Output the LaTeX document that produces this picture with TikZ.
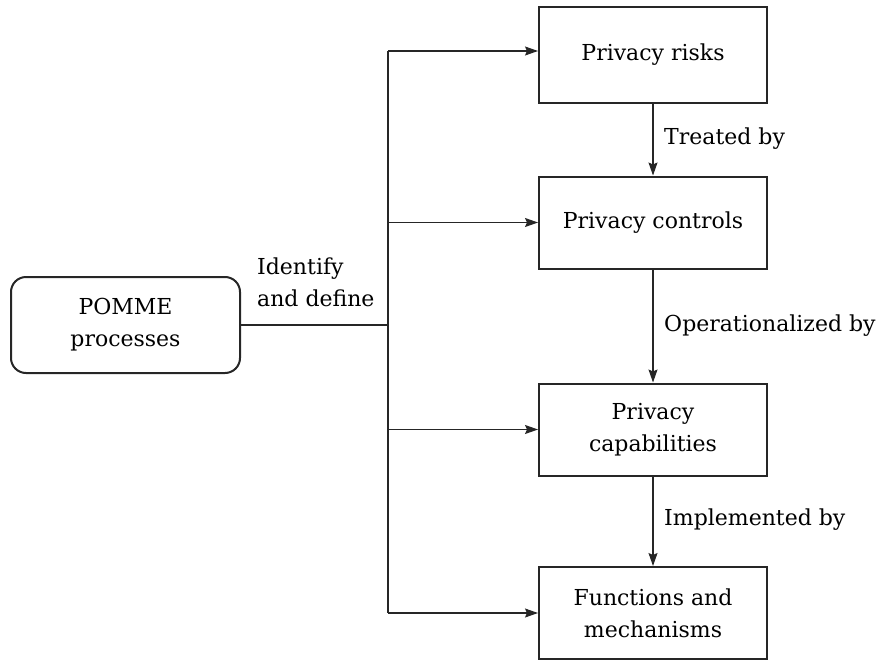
\documentclass[tikz,border=0pt]{standalone}
\usepackage{fontspec}
\setmainfont{DejaVu Serif}
\usetikzlibrary{arrows.meta}
\begin{document}
\begin{tikzpicture}[x=1pt,y=-1pt,
  box/.style={draw=black!85,line width=2pt,minimum width=228pt,minimum height=92pt,align=center,font=\fontsize{22}{32}\selectfont,inner sep=0pt},
  rbox/.style={box,rounded corners=15pt,minimum width=229pt,minimum height=96pt},
  conn/.style={line width=1.1pt,black!85},
  arr/.style={conn,-{Stealth[length=13pt,width=9pt,inset=2pt]}},
  lab/.style={font=\fontsize{22}{32}\selectfont,align=left,inner sep=0pt,anchor=west}]
\useasboundingbox (0,0) rectangle (880,661);
\node[box,minimum height=96pt] (risks) at (653,55) {Privacy risks};
\node[box] (controls) at (653,222.5) {Privacy controls};
\node[box] (caps) at (653,429.5) {Privacy\\capabilities};
\node[box] (funcs) at (653,613) {Functions and\\mechanisms};
\node[rbox] (pomme) at (125.5,325) {POMME\\processes};
\coordinate (j) at (388,325);
\coordinate (t1) at (388,51);
\coordinate (t2) at (388,222.5);
\coordinate (t3) at (388,429.5);
\coordinate (t4) at (388,613);
\draw[conn] (pomme.east) -- (j);
\draw[conn] (t1) -- (t4);
\draw[arr] (t1) -- (t1 -| risks.west);
\draw[arr] (t2) -- (controls.west);
\draw[arr] (t3) -- (caps.west);
\draw[arr] (t4) -- (funcs.west);
\draw[arr] (risks) -- (controls);
\draw[arr] (controls) -- (caps);
\draw[arr] (caps) -- (funcs);
\node[lab] (l0) at (257,282) {Identify\\and define};
\node[lab] (l1) at (664,139) {Treated by};
\node[lab] (l2) at (664,326) {Operationalized by};
\node[lab] (l3) at (664,520) {Implemented by};
\end{tikzpicture}
\end{document}
